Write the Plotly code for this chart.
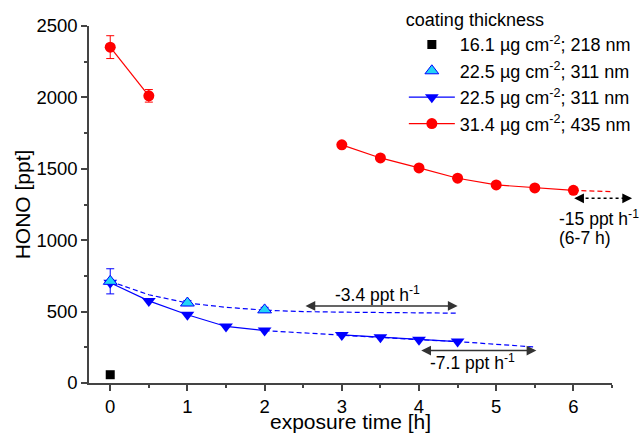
import plotly.graph_objects as go

FONT = "Liberation Sans, Arial, sans-serif"

# ---- data ----
black_x = [0]
black_y = [58]

cyan_x = [0, 1, 2]
cyan_y = [712, 560, 512]
cyan_err = [88, 18, 18]

blue_x = [0, 0.5, 1, 1.5, 2, None, 3, 3.5, 4, 4.5]
blue_y = [702, 575, 478, 396, 367, None, 337, 321, 302, 290]

red_x = [0, 0.5, None, 3, 3.5, 4, 4.5, 5, 5.5, 6]
red_y = [2352, 2011, None, 1668, 1576, 1506, 1434, 1387, 1366, 1349]
red_err = [80, 44, None, 0, 0, 0, 0, 0, 0, 0]

cyan_fit_x = [0, 0.5, 1, 1.5, 2, 2.5, 3, 3.5, 4, 4.5]
cyan_fit_y = [712, 618, 560, 530, 510, 500, 496, 493, 491, 489]

blue_fit_x = [2, 2.5, 3, 3.5, 4, 4.5, 5, 5.5]
blue_fit_y = [367, 350, 337, 321, 303, 290, 272, 252]

red_fit_x = [6, 6.5]
red_fit_y = [1349, 1340]

legend_labels = [
    "16.1 µg cm<sup>-2</sup>; 218 nm",
    "22.5 µg cm<sup>-2</sup>; 311 nm",
    "22.5 µg cm<sup>-2</sup>; 311 nm",
    "31.4 µg cm<sup>-2</sup>; 435 nm",
]

XR = [-0.275, 6.5]
YR = [0, 2500]

RED = "#ff0000"
BLUE = "#0000ff"
CYAN = "#22d4f5"
DASH = "5px,3px"

fig = go.Figure()

# fit curves (no legend)
fig.add_trace(go.Scatter(x=cyan_fit_x, y=cyan_fit_y, mode="lines",
                         line=dict(color=BLUE, width=1.2, dash=DASH),
                         showlegend=False, hoverinfo="skip"))
fig.add_trace(go.Scatter(x=blue_fit_x, y=blue_fit_y, mode="lines",
                         line=dict(color=BLUE, width=1.2, dash=DASH),
                         showlegend=False, hoverinfo="skip"))
fig.add_trace(go.Scatter(x=red_fit_x, y=red_fit_y, mode="lines",
                         line=dict(color=RED, width=1.2, dash=DASH),
                         showlegend=False, hoverinfo="skip"))

fig.add_trace(go.Scatter(x=black_x, y=black_y, mode="markers",
                         marker=dict(symbol="square", size=9, color="black"),
                         name=legend_labels[0]))
fig.add_trace(go.Scatter(x=blue_x, y=blue_y, mode="lines+markers",
                         line=dict(color=BLUE, width=1.2),
                         marker=dict(symbol="triangle-down", size=12, color=BLUE),
                         connectgaps=False, showlegend=False))
fig.add_trace(go.Scatter(x=cyan_x, y=cyan_y, mode="markers",
                         marker=dict(symbol="triangle-up", size=12, color=CYAN,
                                     line=dict(color=BLUE, width=1)),
                         error_y=dict(type="data", array=cyan_err, color=BLUE,
                                      thickness=1, width=4),
                         name=legend_labels[1]))
# legend proxy for blue (to keep order)
fig.add_trace(go.Scatter(x=[None], y=[None], mode="lines+markers",
                         line=dict(color=BLUE, width=1.2),
                         marker=dict(symbol="triangle-down", size=12, color=BLUE),
                         name=legend_labels[2]))
fig.add_trace(go.Scatter(x=red_x, y=red_y, mode="lines+markers",
                         line=dict(color=RED, width=1.2),
                         marker=dict(symbol="circle", size=11, color=RED),
                         error_y=dict(type="data", array=red_err, color=RED,
                                      thickness=1, width=4),
                         connectgaps=False, name=legend_labels[3]))

ARROW = "#333333"

def double_arrow(x0, x1, y):
    fig.add_annotation(x=x1, y=y, ax=x0, ay=y, axref="x", ayref="y",
                       xref="x", yref="y", text="", showarrow=True,
                       arrowhead=2, arrowside="end+start", arrowsize=1.3,
                       arrowwidth=1.5, arrowcolor=ARROW, standoff=0, startstandoff=0)

double_arrow(2.51, 4.5, 540)
double_arrow(4.01, 5.52, 227)

# dotted double arrow (extends beyond axis end -> paper coordinates)
def px(xv):
    return (xv - XR[0]) / (XR[1] - XR[0])

def py(yv):
    return (yv - YR[0]) / (YR[1] - YR[0])

fig.add_shape(type="line", xref="paper", yref="paper",
              x0=px(6.08), x1=px(6.68), y0=py(1293), y1=py(1293),
              line=dict(color="black", width=1.5, dash="dot"))
fig.add_annotation(x=px(6.76), y=py(1293), xref="paper", yref="paper", ax=-10, ay=0,
                   text="", showarrow=True, arrowhead=2, arrowsize=1.3,
                   arrowwidth=1.5, arrowcolor="black", standoff=0)
fig.add_annotation(x=px(6.01), y=py(1293), xref="paper", yref="paper", ax=10, ay=0,
                   text="", showarrow=True, arrowhead=2, arrowsize=1.3,
                   arrowwidth=1.5, arrowcolor="black", standoff=0)

TXT = dict(family=FONT, size=17.5, color="black")
fig.add_annotation(x=3.46, y=622, xref="x", yref="y", text="-3.4 ppt h<sup>-1</sup>",
                   showarrow=False, font=TXT)
fig.add_annotation(x=4.69, y=150, xref="x", yref="y", text="-7.1 ppt h<sup>-1</sup>",
                   showarrow=False, font=TXT)
fig.add_annotation(x=5.79, y=1156, xref="x", yref="y", text="-15 ppt h<sup>-1</sup>",
                   showarrow=False, font=TXT, xanchor="left")
fig.add_annotation(x=5.79, y=1015, xref="x", yref="y", text="(6-7 h)",
                   showarrow=False, font=TXT, xanchor="left")

axis_common = dict(showline=True, linecolor="#444444", linewidth=1.5,
                   ticks="outside", ticklen=6, tickwidth=1.5, tickcolor="#444444",
                   showgrid=False, zeroline=False, automargin=False,
                   tickfont=dict(family=FONT, size=18.5, color="black"))

fig.update_xaxes(range=XR, dtick=1, tick0=0,
                 minor=dict(dtick=0.5, ticklen=3, ticks="outside", tickcolor="#444444"),
                 title=dict(text="exposure time [h]", font=dict(family=FONT, size=21, color="black"),
                            standoff=4),
                 **axis_common)
fig.update_yaxes(range=YR, dtick=500, tick0=0,
                 minor=dict(dtick=250, ticklen=3, ticks="outside", tickcolor="#444444"),
                 title=dict(text="HONO [ppt]", font=dict(family=FONT, size=21, color="black"),
                            standoff=0),
                 **axis_common)

fig.update_layout(
    width=640, height=433,
    margin=dict(l=89, r=28, t=26, b=50, autoexpand=False),
    plot_bgcolor="white", paper_bgcolor="white",
    font=dict(family=FONT, size=18, color="black"),
    showlegend=True,
    legend=dict(x=0.602, y=1.065, xanchor="left", yanchor="top",
                bgcolor="rgba(0,0,0,0)", borderwidth=0,
                title=dict(text="coating thickness", font=dict(family=FONT, size=18)),
                font=dict(family=FONT, size=18), tracegroupgap=0,
                itemwidth=46),
)

fig.write_html("out.html", config={"displayModeBar": False},
               post_script="document.body.style.margin='0';document.body.style.padding='0';")
